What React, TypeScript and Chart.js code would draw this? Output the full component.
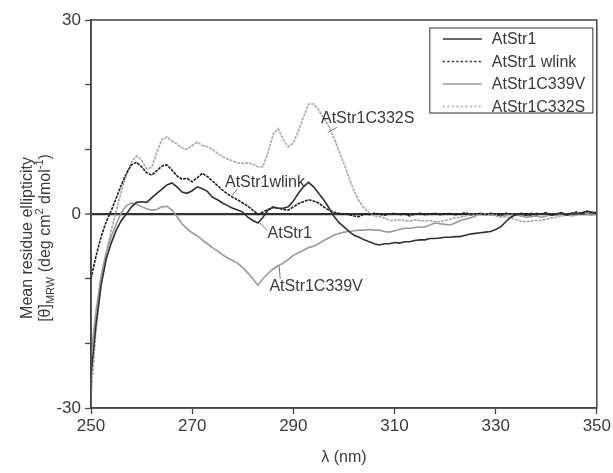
import React, { useEffect, useRef } from 'react';
import { Chart, registerables } from 'chart.js';

Chart.register(...registerables);

// ---------- data ----------
const wavelength = [
  250, 251, 252, 253, 254, 255, 256, 257, 258, 259, 260, 261, 262, 263, 264, 265, 266, 267, 268, 269,
  270, 271, 272, 273, 274, 275, 276, 277, 278, 279, 280, 281, 282, 283, 284, 285, 286, 287, 288, 289,
  290, 291, 292, 293, 294, 295, 296, 297, 298, 299, 300, 301, 302, 303, 304, 305, 306, 307, 308, 309,
  310, 311, 312, 313, 314, 315, 316, 317, 318, 319, 320, 321, 322, 323, 324, 325, 326, 327, 328, 329,
  330, 331, 332, 333, 334, 335, 336, 337, 338, 339, 340, 341, 342, 343, 344, 345, 346, 347, 348, 349,
  350,
];

const atStr1 = [
  -25, -17, -11, -7, -4.5, -2.5, -1, 0, 1.1, 1.8, 1.9, 1.8, 2.5, 3.2, 3.8, 4.5, 4.8, 4.2, 3.4, 3.2,
  3.6, 4.2, 3.9, 3.5, 2.6, 2.2, 1.7, 1.3, 0.9, 0.6, 0.3, -0.5, -1.0, -1.4, -0.5, 0.6, 1.1, 0.9, 0.9, 1.1,
  2.0, 3.2, 4.2, 4.9, 4.2, 3.2, 2.2, 1.0, -0.3, -1.3, -2.0, -2.7, -3.3, -3.6, -4.0, -4.3, -4.6, -4.8, -4.6, -4.6,
  -4.4, -4.5, -4.3, -4.3, -4.1, -4.0, -4.0, -3.8, -3.8, -3.7, -3.6, -3.6, -3.5, -3.5, -3.3, -3.1, -3.0, -2.9, -2.8, -2.7,
  -2.4, -2.0, -1.2, -0.5, -0.1, 0.0, -0.2, 0.1, -0.1, 0.0, 0.1, -0.2, 0.0, 0.2, -0.1, 0.1, 0.0, 0.2, 0.4, 0.3,
  0.2,
];

const atStr1wlink = [
  -10, -6.5, -3.5, -1.2, 0.5, 2.5, 4.5, 6.3, 7.6, 8.0, 7.3, 6.4, 6.0, 6.7, 7.4, 7.6, 6.8, 5.9, 5.4, 5.5,
  5.0, 5.6, 6.3, 5.8, 5.1, 4.4, 3.7, 3.1, 2.6, 2.2, 1.7, 1.2, 0.6, -0.1, 0.3, 0.7, 1.0, 0.9, 0.7, 0.6,
  1.1, 1.6, 1.9, 2.2, 2.0, 1.7, 1.1, 0.6, 0.3, 0.1, 0.0, -0.1, -0.3, -0.4, 0.0, -0.1, 0.1, 0.0, -0.2, 0.0,
  0.1, -0.1, 0.0, -0.3, 0.0, 0.1, -0.1, 0.0, 0.1, -0.1, 0.0, 0.1, -0.1, 0.0, 0.2, -0.1, 0.0, 0.1, -0.1, 0.1,
  0.0, -0.2, 0.1, 0.0, -0.1, 0.1, 0.0, -0.2, 0.1, 0.0, 0.2, -0.1, 0.0, 0.1, -0.2, 0.1, 0.3, 0.0, 0.4, 0.2,
  0.1,
];

const atStr1C339V = [
  -22, -15, -9.5, -6, -3.5, -1.5, 0.2, 1.3, 1.7, 1.5, 1.1, 0.8, 0.6, 0.7, 1.1, 1.2, 0.6, -0.4, -1.5, -2.3,
  -2.9, -3.4, -4.0, -4.6, -5.2, -5.7, -6.3, -6.8, -7.2, -7.6, -8.3, -9.1, -10.0, -11.0, -10.0, -9.2, -8.5, -8.0, -7.6, -7.0,
  -6.4, -6.0, -5.6, -5.2, -5.0, -4.6, -4.1, -3.7, -3.3, -3.0, -2.8, -2.7, -2.6, -2.5, -2.5, -2.4, -2.5, -2.5, -2.7, -2.8,
  -2.6, -2.4, -2.2, -2.2, -2.1, -2.0, -2.0, -1.7, -1.4, -1.5, -1.6, -1.7, -1.4, -1.0, -0.8, -0.6, -0.3, 0.1, 0.0, -0.2,
  -0.1, -0.3, -0.2, 0.0, -0.1, -0.3, -0.5, -0.4, -0.3, -0.5, -0.3, -0.1, -0.2, 0.0, -0.1, -0.3, -0.1, 0.1, 0.0, -0.2,
  0.0,
];

const atStr1C332S = [
  -28, -18, -11, -6, -2.5, 0.5, 3.5, 6.0, 8.0, 9.0, 8.3, 7.0, 7.2, 9.5, 11.5, 11.9, 11.3, 10.8, 10.2, 10.0,
  10.6, 11.1, 10.6, 10.4, 10.0, 9.4, 8.9, 8.5, 8.2, 7.9, 7.8, 7.9, 7.7, 7.3, 7.3, 9.5, 12.3, 13.2, 11.5, 10.4,
  11.0, 12.8, 15.0, 17.0, 17.0, 16.1, 14.8, 13.6, 11.8, 9.8, 7.8, 5.6, 3.6, 2.0, 0.9, 0.2, -0.3, -0.4, -0.6, -1.0,
  -1.0, -0.9, -1.0, -1.1, -0.9, -1.0, -1.1, -1.0, -1.2, -1.2, -1.0, -0.8, -0.6, -0.5, -0.3, -0.1, 0.0, -0.2, -0.1, 0.0,
  -0.3, -0.5, -0.4, -0.6, -0.9, -1.1, -1.2, -1.1, -1.0, -1.0, -0.8, -0.6, -0.5, -0.3, -0.2, -0.1, 0.0, 0.2, 0.1, 0.0,
  0.1,
];

const seriesNames = ['AtStr1', 'AtStr1 wlink', 'AtStr1C339V', 'AtStr1C332S'];
const seriesColors = ['#303030', '#202020', '#9a9a9a', '#a8a8a8'];
const seriesDashes: number[][] = [[], [3, 1], [], [3, 1]];
const yLabelledTicks = [-30, 0, 30];

// in-plot labels (data units): text position, leader line from -> to
const annotations = [
  { text: 'AtStr1C332S', x: 304.7, y: 14.7, from: [298.6, 13.4], to: [296.8, 12.6] },
  { text: 'AtStr1wlink', x: 284.4, y: 4.9, from: [279.0, 3.9], to: [277.9, 2.9] },
  { text: 'AtStr1', x: 289.3, y: -3.1, from: [284.8, -2.5], to: [283.3, -1.3] },
  { text: 'AtStr1C339V', x: 294.5, y: -11.3, from: [287.4, -10.0], to: [287.2, -8.0] },
];

const FONT = '"Liberation Sans", Arial, Helvetica, sans-serif';
const TEXT_COLOR = '#3a3a3a';

const decorPlugin = {
  id: 'decor',
  afterDatasetsDraw(chart: any) {
    const { ctx, chartArea: a, scales } = chart;
    const xs = scales.x;
    const ys = scales.y;
    ctx.save();
    // frame
    ctx.strokeStyle = '#444';
    ctx.lineWidth = 1.5;
    ctx.strokeRect(a.left, a.top, a.right - a.left, a.bottom - a.top);

    // annotations
    ctx.font = `16px ${FONT}`;
    ctx.textAlign = 'center';
    ctx.textBaseline = 'middle';
    for (const an of annotations) {
      ctx.strokeStyle = '#777';
      ctx.lineWidth = 1;
      ctx.beginPath();
      ctx.moveTo(xs.getPixelForValue(an.from[0]), ys.getPixelForValue(an.from[1]));
      ctx.lineTo(xs.getPixelForValue(an.to[0]), ys.getPixelForValue(an.to[1]));
      ctx.stroke();
      ctx.fillStyle = TEXT_COLOR;
      ctx.fillText(an.text, xs.getPixelForValue(an.x), ys.getPixelForValue(an.y));
    }

    // legend box
    const bw = 163;
    const bh = 85;
    const bx = a.right - 4 - bw;
    const by = a.top + 8;
    ctx.fillStyle = '#fff';
    ctx.fillRect(bx, by, bw, bh);
    ctx.strokeStyle = '#555';
    ctx.lineWidth = 1.2;
    ctx.strokeRect(bx, by, bw, bh);
    ctx.textAlign = 'left';
    for (let i = 0; i < seriesNames.length; i++) {
      const ry = by + 11 + i * 22.5;
      ctx.strokeStyle = seriesColors[i];
      ctx.lineWidth = 1.5;
      ctx.setLineDash(seriesDashes[i].length ? [2, 2.5] : []);
      ctx.beginPath();
      ctx.moveTo(bx + 13, ry);
      ctx.lineTo(bx + 52, ry);
      ctx.stroke();
      ctx.setLineDash([]);
      ctx.fillStyle = TEXT_COLOR;
      ctx.fillText(seriesNames[i], bx + 62, ry + 1);
    }
    ctx.restore();
  },
  afterDraw(chart: any) {
    const { ctx } = chart;
    ctx.save();
    const cy = 238;
    // line 1
    ctx.translate(28, cy);
    ctx.rotate(-Math.PI / 2);
    ctx.fillStyle = TEXT_COLOR;
    ctx.textBaseline = 'middle';
    ctx.textAlign = 'center';
    ctx.font = `16px ${FONT}`;
    ctx.fillText('Mean residue ellipticity', 0, 0);
    ctx.restore();

    // line 2 with sub/superscripts
    const segs = [
      { t: '[θ]', k: 'n' },
      { t: 'MRW', k: 'sub' },
      { t: ' (deg cm', k: 'n' },
      { t: '2', k: 'sup' },
      { t: ' dmol', k: 'n' },
      { t: '-1', k: 'sup' },
      { t: ')', k: 'n' },
    ];
    const fontFor = (k: string) => (k === 'n' ? `16px ${FONT}` : `11px ${FONT}`);
    ctx.save();
    ctx.translate(46, cy);
    ctx.rotate(-Math.PI / 2);
    ctx.fillStyle = TEXT_COLOR;
    ctx.textBaseline = 'middle';
    ctx.textAlign = 'left';
    let total = 0;
    for (const s of segs) {
      ctx.font = fontFor(s.k);
      total += ctx.measureText(s.t).width;
    }
    let px = -total / 2;
    for (const s of segs) {
      ctx.font = fontFor(s.k);
      const dy = s.k === 'sub' ? 5 : s.k === 'sup' ? -6 : 0;
      ctx.fillText(s.t, px, dy);
      px += ctx.measureText(s.t).width;
    }
    ctx.restore();
  },
};

export default function App() {
  const canvasRef = useRef<HTMLCanvasElement | null>(null);

  useEffect(() => {
    if (!canvasRef.current) return;
    const seriesValues = [atStr1, atStr1wlink, atStr1C339V, atStr1C332S];
    const chart = new Chart(canvasRef.current, {
      type: 'line',
      data: {
        datasets: seriesValues.map((vals, i) => ({
          label: seriesNames[i],
          data: wavelength.map((w, j) => ({ x: w, y: vals[j] })),
          borderColor: seriesColors[i],
          borderWidth: 1.6,
          borderDash: seriesDashes[i],
          pointRadius: 0,
          tension: 0,
          fill: false,
        })),
      },
      options: {
        responsive: false,
        animation: false,
        layout: { padding: { left: 0, right: 16, top: 20, bottom: 0 } },
        plugins: {
          legend: { display: false },
          tooltip: { enabled: false },
        },
        scales: {
          x: {
            type: 'linear',
            min: 250,
            max: 350,
            afterFit: (s: any) => {
              s.height = 65;
            },
            ticks: {
              stepSize: 20,
              color: TEXT_COLOR,
              font: { size: 17, family: FONT },
              padding: 2,
              maxRotation: 0,
            },
            grid: {
              drawOnChartArea: false,
              drawTicks: true,
              tickLength: 6,
              tickColor: '#444',
              tickWidth: 1.3,
            },
            border: { display: true, color: '#444', width: 1.5 },
            title: {
              display: true,
              text: 'λ (nm)',
              color: TEXT_COLOR,
              font: { size: 16, family: FONT },
              padding: { top: 0, bottom: 6 },
            },
          },
          y: {
            min: -30,
            max: 30,
            afterFit: (s: any) => {
              s.width = 91;
            },
            ticks: {
              stepSize: 10,
              color: TEXT_COLOR,
              font: { size: 17, family: FONT },
              padding: 4,
              callback: (v: any) => (yLabelledTicks.includes(Number(v)) ? String(v) : ''),
            },
            grid: {
              drawOnChartArea: true,
              drawTicks: true,
              tickLength: 6,
              color: (c: any) => (c.tick && c.tick.value === 0 ? '#333' : 'rgba(0,0,0,0)'),
              lineWidth: (c: any) => (c.tick && c.tick.value === 0 ? 2.2 : 1),
              tickColor: '#444',
              tickWidth: 1.3,
            },
            border: { display: true, color: '#444', width: 1.5 },
          },
        },
      },
      plugins: [decorPlugin],
    } as any);
    return () => chart.destroy();
  }, []);

  return (
    <div style={{ position: 'absolute', left: 0, top: 0, width: 613, height: 473, background: '#fff' }}>
      <canvas ref={canvasRef} width={613} height={473} />
    </div>
  );
}
